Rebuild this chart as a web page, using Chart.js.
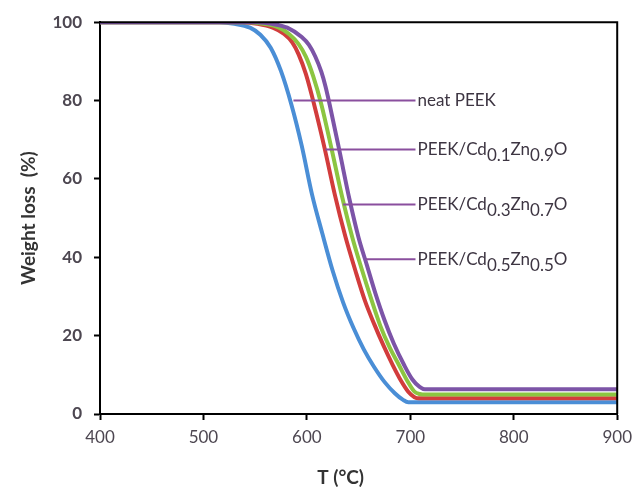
<!DOCTYPE html>
<html>
<head>
<meta charset="utf-8">
<script src="https://cdn.jsdelivr.net/npm/chart.js@4/dist/chart.umd.min.js"></script>
<style>
  html, body { margin: 0; padding: 0; background: #fff; }
  #wrap { width: 639px; height: 496px; }
</style>
</head>
<body>
<div id="wrap"><canvas id="tga"></canvas></div>
<script>
// temperatures (°C) and remaining weight (%)
const tBlue = [400, 515, 530, 545, 555, 565, 575, 585, 595, 605, 615, 625, 635, 645, 655, 665, 675, 685, 693, 698, 900];
const wBlue = [100, 100, 99.6, 98.6, 96.8, 93.5, 87.5, 79, 68.5, 56, 46, 36.5, 28.5, 22, 16.5, 12, 8.2, 5.3, 3.6, 3, 3];

const tRed = [400, 538, 552, 567, 578, 586, 592, 599, 607, 617, 627, 637, 647, 656, 665, 674, 683, 691, 698, 704, 708, 900];
const wRed = [100, 100, 99.6, 98.6, 97, 94.8, 91.8, 86.8, 79, 68, 56, 45.5, 36.5, 29, 23, 17.5, 12.5, 8.5, 5.7, 4.3, 4, 4];

const tGreen = [400, 544, 558, 573, 583, 592, 599, 606, 614, 624, 634, 644, 653, 662, 671, 680, 689, 697, 704, 709, 712, 900];
const wGreen = [100, 100, 99.6, 98.6, 96.9, 94.4, 91.2, 86.3, 79, 67.5, 55.5, 45, 37, 29.5, 22.5, 17, 12.5, 8.5, 5.7, 5.1, 5, 5];

const tPurple = [400, 552, 566, 581, 595, 602, 608, 614, 618, 622, 632, 641, 650, 658, 666, 675, 684, 694, 702, 709, 714, 900];
const wPurple = [100, 100, 99.6, 98.6, 96.2, 94.2, 91.3, 87.3, 83.6, 79, 66.5, 55, 45, 38, 31, 24, 18, 12.5, 8.8, 6.9, 6.3, 6.3];

// leader lines: level (%), start temperature on the curve, end temperature
const leaderY = [80, 67.5, 53.5, 39.5];
const leaderStart = [587, 618, 635, 657];
const leaderEnd = 705;

// label text pieces: [text, isSubscript]
const labelParts = [
  [['neat PEEK', 0]],
  [['PEEK/Cd', 0], ['0.1', 1], ['Zn', 0], ['0.9', 1], ['O', 0]],
  [['PEEK/Cd', 0], ['0.3', 1], ['Zn', 0], ['0.7', 1], ['O', 0]],
  [['PEEK/Cd', 0], ['0.5', 1], ['Zn', 0], ['0.5', 1], ['O', 0]]
];

const xTicks = [400, 500, 600, 700, 800, 900];
const yTicks = [0, 20, 40, 60, 80, 100];

const toPts = (xs, ys) => xs.map((x, i) => ({ x: x, y: ys[i] }));

const curve = (data, color, order) => ({
  data: data,
  borderColor: color,
  borderWidth: 4,
  pointRadius: 0,
  cubicInterpolationMode: 'monotone',
  order: order
});

const datasets = [
  curve(toPts(tBlue, wBlue), '#4a8ed6', 5),
  curve(toPts(tRed, wRed), '#d23c3c', 4),
  curve(toPts(tGreen, wGreen), '#8cc541', 3),
  curve(toPts(tPurple, wPurple), '#7c54a7', 2)
];
leaderY.forEach((y, i) => {
  datasets.push({
    data: [{ x: leaderStart[i], y: y }, { x: leaderEnd, y: y }],
    borderColor: '#8a4f9e',
    borderWidth: 2,
    pointRadius: 0,
    order: 1
  });
});

// frame around the plot, annotation texts, x axis title
const extras = {
  id: 'extras',
  afterDatasetsDraw(chart) {
    const ctx = chart.ctx;
    const a = chart.chartArea;
    const xs = chart.scales.x, ys = chart.scales.y;
    ctx.save();
    ctx.strokeStyle = '#000';
    ctx.lineWidth = 2;
    ctx.beginPath();
    ctx.moveTo(a.left, a.top);
    ctx.lineTo(a.right, a.top);
    ctx.lineTo(a.right, a.bottom);
    ctx.stroke();

    ctx.fillStyle = '#3d3542';
    ctx.textBaseline = 'middle';
    ctx.textAlign = 'left';
    ctx.font = '17px Lato';
    labelParts.forEach((parts, i) => {
      let px = xs.getPixelForValue(leaderEnd) + 2;
      const py = ys.getPixelForValue(leaderY[i]);
      parts.forEach(([txt, sub]) => {
        ctx.fillText(txt, px, sub ? py + 6 : py);
        px += ctx.measureText(txt).width;
      });
    });

    ctx.fillStyle = '#333';
    ctx.textAlign = 'center';
    ctx.font = 'bold 19px Lato';
    ctx.fillText('T (°C)', (a.left + a.right) / 2 - 18, 478);
    ctx.restore();
  }
};

new Chart(document.getElementById('tga').getContext('2d'), {
  type: 'line',
  data: { datasets: datasets },
  plugins: [extras],
  options: {
    responsive: true,
    maintainAspectRatio: false,
    animation: false,
    layout: { padding: { left: 0, right: 16, top: 22, bottom: 0 } },
    plugins: { legend: { display: false }, tooltip: { enabled: false } },
    scales: {
      x: {
        type: 'linear',
        min: 400,
        max: 900,
        afterBuildTicks: s => { s.ticks = xTicks.map(v => ({ value: v })); },
        afterFit: s => { s.height = 82; },
        grid: { drawOnChartArea: false, color: '#000', tickLength: 6, tickWidth: 2 },
        border: { color: '#000', width: 2 },
        ticks: { color: '#4d4751', font: { family: 'Lato', size: 17 }, padding: 7, maxRotation: 0 }
      },
      y: {
        min: 0,
        max: 100,
        afterBuildTicks: s => { s.ticks = yTicks.map(v => ({ value: v })); },
        afterFit: s => { s.width = 100; },
        grid: { drawOnChartArea: false, color: '#000', tickLength: 6, tickWidth: 2 },
        border: { color: '#000', width: 2 },
        ticks: { color: '#4d4751', font: { family: 'Lato', size: 17, weight: 'bold' }, padding: 12 },
        title: {
          display: true,
          text: 'Weight loss  (%)',
          color: '#333',
          font: { family: 'Lato', size: 19, weight: 'bold' },
          padding: { top: 17, bottom: 0 }
        }
      }
    }
  }
});
</script>
</body>
</html>
